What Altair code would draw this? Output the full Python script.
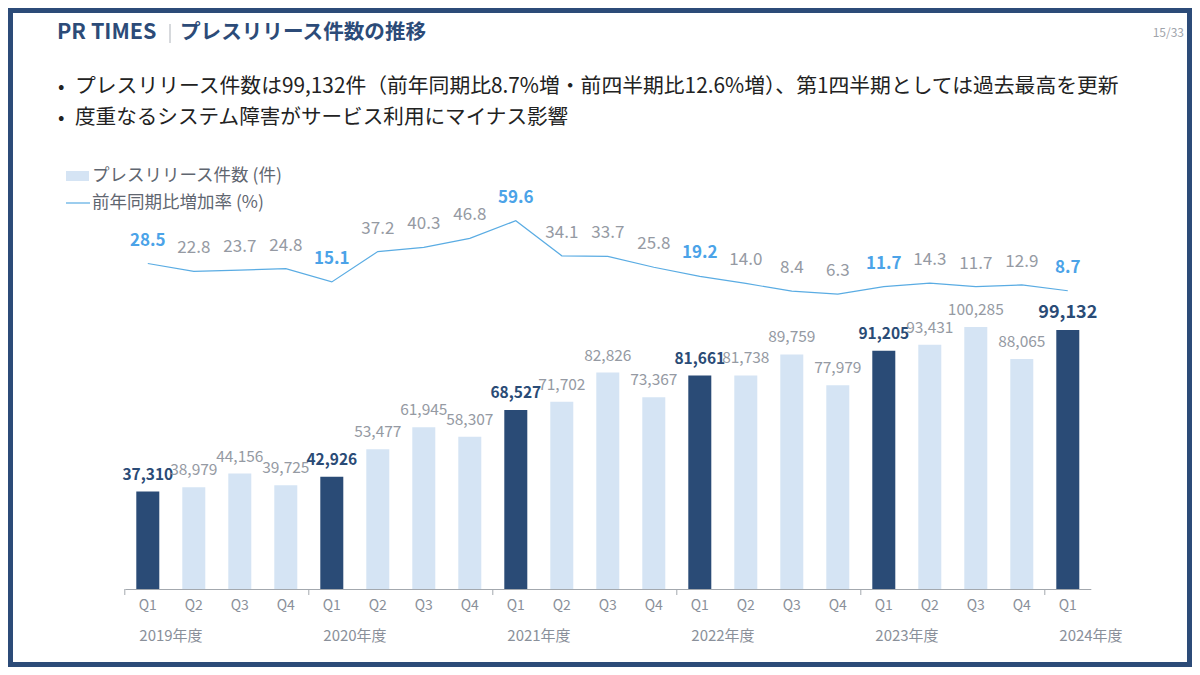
import altair as alt
import pandas as pd

# ---------------- data ----------------
fiscal_years = ["2019"] * 4 + ["2020"] * 4 + ["2021"] * 4 + ["2022"] * 4 + ["2023"] * 4 + ["2024"]
quarters = ["Q1", "Q2", "Q3", "Q4"] * 5 + ["Q1"]
counts = [37310, 38979, 44156, 39725,
          42926, 53477, 61945, 58307,
          68527, 71702, 82826, 73367,
          81661, 81738, 89759, 77979,
          91205, 93431, 100285, 88065,
          99132]
rates = [28.5, 22.8, 23.7, 24.8,
         15.1, 37.2, 40.3, 46.8,
         59.6, 34.1, 33.7, 25.8,
         19.2, 14.0, 8.4, 6.3,
         11.7, 14.3, 11.7, 12.9,
         8.7]
year_names = ["2019", "2020", "2021", "2022", "2023", "2024"]
year_labels = ["2019年度", "2020年度", "2021年度", "2022年度", "2023年度", "2024年度"]

title_main = "PR TIMES"
title_sub = "プレスリリース件数の推移"
bullet_lines = [
    "プレスリリース件数は99,132件（前年同期比8.7%増・前四半期比12.6%増）、第1四半期としては過去最高を更新",
    "度重なるシステム障害がサービス利用にマイナス影響",
]
legend_bar = "プレスリリース件数 (件)"
legend_line = "前年同期比増加率 (%)"
page_no = "15/33"

# ---------------- styling ----------------
F = "Noto Sans CJK JP"
NAVY = "#2A4B76"
LIGHT = "#D5E4F4"
LINE = "#5AACE3"
BLUE_TXT = "#4BA3E8"
GRAY = "#8A909A"
BORDER = "#2C4B78"

W, H = 966, 439           # plot area
OX, OY = 124.8, 150       # page position of plot origin
PAD = {"left": OX - 8, "top": OY - 8, "right": 1192 - (OX + W), "bottom": 667 - (OY + H)}
HALF_GAP = 11.5           # half of the gap between bars (step 46, bar 23)


def px(x):
    return x - OX


def py(y):
    return y - OY


df = pd.DataFrame({"fy": fiscal_years, "q": quarters, "count": counts, "rate": rates})
df["key"] = df["fy"] + "-" + df["q"]
order = list(df["key"])
last_key = order[-1]

ydf = pd.DataFrame({"key": [y + "-Q1" for y in year_names], "label": year_labels})

xscale = alt.Scale(paddingInner=0.5, paddingOuter=0.25)
xaxis = alt.Axis(title=None, labelExpr="split(datum.value, '-')[1]", ticks=False,
                 domainColor="#A3A8AE", domainWidth=1, labelColor=GRAY, labelFont=F,
                 labelFontSize=14, labelPadding=9, labelAngle=0, grid=False)


def X(band=None):
    if band is None:
        return alt.X("key:N", sort=order, scale=xscale, axis=xaxis)
    return alt.X("key:N", sort=order, scale=xscale, axis=xaxis, bandPosition=band)


ycount = alt.Y("count:Q", scale=alt.Scale(domain=[0, 168006], nice=False, zero=False), axis=None)
yrate = alt.Y("rate:Q", scale=alt.Scale(domain=[-208.2, 111.05], nice=False, zero=False), axis=None)

base = alt.Chart(df)

bars = base.mark_bar().encode(
    x=X(), y=ycount,
    color=alt.condition("datum.q == 'Q1'", alt.value(NAVY), alt.value(LIGHT)),
)

bar_lab_q1 = base.transform_filter("datum.q == 'Q1'").mark_text(
    font=F, fontWeight="bold", color=NAVY, baseline="alphabetic", dy=-12
).encode(
    x=X(), y=ycount, text=alt.Text("count:Q", format=","),
    size=alt.condition(f"datum.key == '{last_key}'", alt.value(18), alt.value(15.5)),
)

bar_lab_other = base.transform_filter("datum.q != 'Q1'").mark_text(
    font=F, color="#959AA3", baseline="alphabetic", dy=-12, fontSize=15.5
).encode(x=X(), y=ycount, text=alt.Text("count:Q", format=","))

line = base.mark_line(color=LINE, strokeWidth=1.2).encode(x=X(), y=yrate)

rate_lab_q1 = base.transform_filter("datum.q == 'Q1'").mark_text(
    font=F, fontWeight="bold", color=BLUE_TXT, baseline="middle", dy=-23, fontSize=17
).encode(x=X(), y=yrate, text=alt.Text("rate:Q", format=".1f"))

rate_lab_other = base.transform_filter("datum.q != 'Q1'").mark_text(
    font=F, color="#959AA3", baseline="middle", dy=-23, fontSize=17
).encode(x=X(), y=yrate, text=alt.Text("rate:Q", format=".1f"))

ticks = alt.Chart(ydf).mark_rule(color="#A3A8AE", strokeWidth=1, xOffset=-HALF_GAP).encode(
    x=X(0), y=alt.value(H), y2=alt.value(H + 6)
)

year_text = alt.Chart(ydf).mark_text(
    font=F, fontSize=15, color=GRAY, align="left", baseline="middle", dx=3
).encode(x=X(0), y=alt.value(py(636)), text="label:N")


# ---------------- annotations ----------------
def one():
    return alt.Chart(alt.Data(values=[{"a": 1}]))


def note(text, x, y, size, color, weight="normal", align="left"):
    return one().mark_text(text=text, font=F, fontSize=size, color=color, fontWeight=weight,
                           align=align, baseline="middle").encode(
        x=alt.value(px(x)), y=alt.value(py(y)))


border = one().mark_rect(fill="transparent", stroke=BORDER, strokeWidth=5).encode(
    x=alt.value(-PAD["left"] + 2.5), x2=alt.value(W + PAD["right"] - 2.5),
    y=alt.value(-PAD["top"] + 2.5), y2=alt.value(H + PAD["bottom"] - 2.5),
)

t1 = note(title_main, 57, 33, 21.5, BORDER, "bold")
sep = one().mark_rule(color="#AEB3BA", strokeWidth=1).encode(
    x=alt.value(px(170)), y=alt.value(py(24)), y2=alt.value(py(43)))
t2 = note(title_sub, 180, 33, 20.6, BORDER, "bold")
pg = note(page_no, 1184, 33, 12, "#9FA4AB", align="right")

b1a = note("•", 58, 87, 19, "#222222")
b1 = note(bullet_lines[0], 75, 87, 20.8, "#222222")
b2a = note("•", 58, 118, 19, "#222222")
b2 = note(bullet_lines[1], 75, 118, 20.6, "#222222")

leg_rect = one().mark_rect(color=LIGHT).encode(
    x=alt.value(px(66)), x2=alt.value(px(89)), y=alt.value(py(171)), y2=alt.value(py(181)))
leg_t1 = note(legend_bar, 92, 176, 17.5, "#5F6670")
leg_line = one().mark_rule(color=LINE, strokeWidth=1.2).encode(
    x=alt.value(px(66)), x2=alt.value(px(90)), y=alt.value(py(203)))
leg_t2 = note(legend_line, 92, 203, 17.5, "#5F6670")

chart = alt.layer(
    bars, bar_lab_q1, bar_lab_other, line, rate_lab_q1, rate_lab_other, ticks, year_text,
    border, t1, sep, t2, pg, b1a, b1, b2a, b2, leg_rect, leg_t1, leg_line, leg_t2,
).resolve_scale(y="independent").properties(
    width=W, height=H, padding=PAD, autosize=alt.AutoSizeParams(type="none"),
    background="white",
).configure_view(stroke=None)

chart.save("out.html", embed_options={"renderer": "svg", "actions": False})
